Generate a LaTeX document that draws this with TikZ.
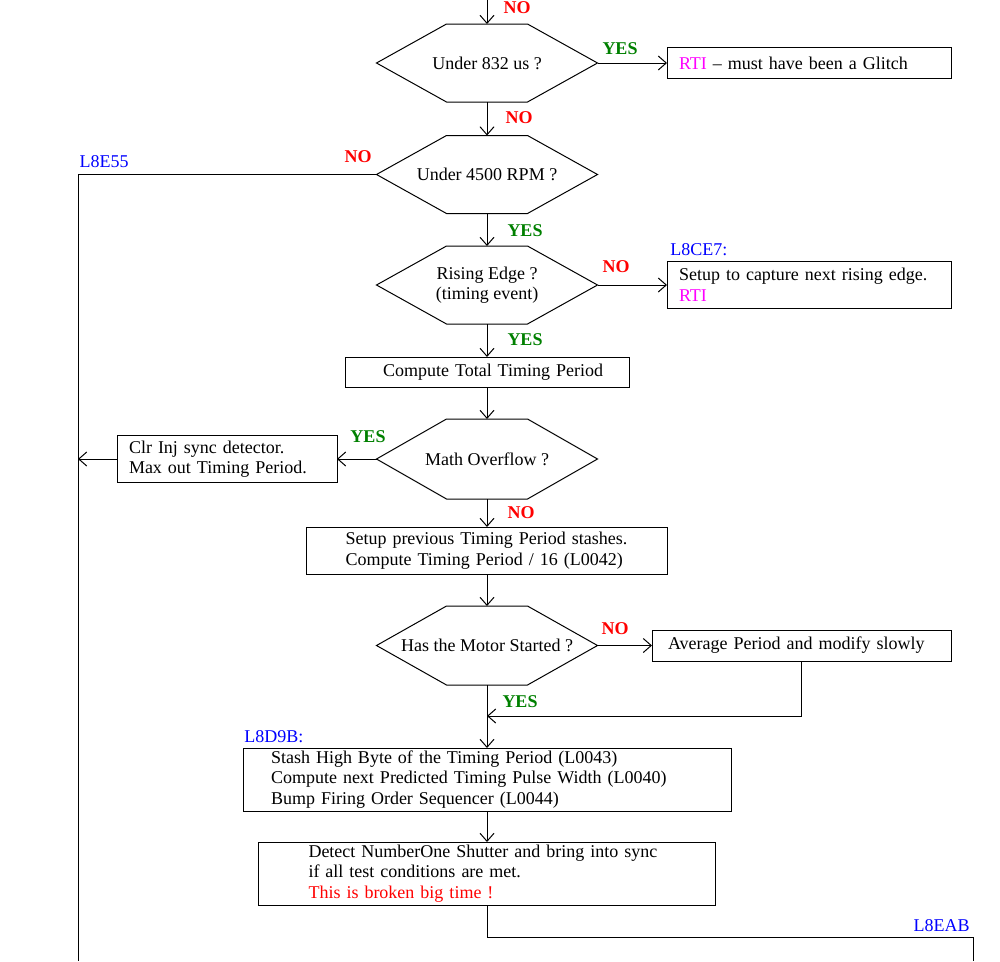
\documentclass[tikz,border=0pt]{standalone}
\usepackage{fontspec}
\setmainfont{Liberation Serif}
\usetikzlibrary{arrows.meta}
\definecolor{lblred}{RGB}{255,0,0}
\definecolor{lblgreen}{RGB}{0,128,0}
\definecolor{lblblue}{RGB}{0,0,255}
\definecolor{lblmag}{RGB}{255,0,255}
\newcommand\hexpath[1]{\draw (#1.west) -- ([xshift=70pt]#1.north west) -- ([xshift=-70pt]#1.north east) -- (#1.east) -- ([xshift=-70pt]#1.south east) -- ([xshift=70pt]#1.south west) -- cycle;}
\begin{document}
\begin{tikzpicture}[x=1pt,y=-1pt,line width=1pt,
  every node/.style={font=\fontsize{18}{20.5}\selectfont, outer sep=0pt},
  hexnode/.style={minimum width=221pt, minimum height=78pt, inner sep=0pt, align=center},
  box/.style={draw, rectangle, align=left, inner ysep=0pt},
  arr/.style={-{Straight Barb[length=8pt,width=14pt]}},
  yes/.style={text=lblgreen, font=\fontsize{18}{20}\selectfont\bfseries},
  no/.style={text=lblred, font=\fontsize{18}{20}\selectfont\bfseries},
  tag/.style={text=lblblue}]
\useasboundingbox (0,0) rectangle (1000,961);

% decision nodes
\node[hexnode] (d1) at (487,63) {Under 832 us ?};
\node[hexnode] (d2) at (487,174.5) {Under 4500 RPM ?};
\node[hexnode] (d3) at (487,285) {Rising Edge ?\\(timing event)};
\node[hexnode, minimum height=80pt] (d4) at (487,459) {Math Overflow ?};
\node[hexnode, minimum height=79pt] (d5) at (487,645.5) {Has the Motor Started ?};
\hexpath{d1}
\hexpath{d2}
\hexpath{d3}
\hexpath{d4}
\hexpath{d5}

% process boxes
\node[box, text width=260pt, inner xsep=12pt, minimum height=31pt] (rti) at (809,63)
  {\mbox{\textcolor{lblmag}{RTI} – must have been a Glitch}};
\node[box, text width=260pt, inner xsep=12pt, minimum height=47pt] (cap) at (809,285)
  {\mbox{Setup to capture next rising edge.}\\\textcolor{lblmag}{RTI}};
\node[box, text width=208pt, inner xsep=38pt, minimum height=30pt] (ctp) at (487,372)
  {\mbox{Compute Total Timing Period}};
\node[box, text width=196pt, inner xsep=12pt, minimum height=47pt] (clr) at (227,459)
  {\mbox{Clr Inj sync detector.}\\\mbox{Max out Timing Period.}};
\node[box, text width=283pt, inner xsep=39pt, minimum height=47pt] (spv) at (487,550.5)
  {\mbox{Setup previous Timing Period stashes.}\\\mbox{Compute Timing Period / 16 (L0042)}};
\node[box, text width=267pt, inner xsep=16pt, minimum height=31pt] (avg) at (801.5,645.5)
  {\mbox{Average Period and modify slowly}};
\node[box, text width=432pt, inner xsep=28pt, minimum height=63pt] (stash) at (487,779.5)
  {\mbox{Stash High Byte of the Timing Period (L0043)}\\\mbox{Compute next Predicted Timing Pulse Width (L0040)}\\\mbox{Bump Firing Order Sequencer (L0044)}};
\node[box, text width=357pt, inner xsep=50pt, minimum height=63pt] (det) at (487,873.5)
  {\mbox{Detect NumberOne Shutter and bring into sync}\\\mbox{if all test conditions are met.}\\\mbox{\textcolor{lblred}{This is broken big time !}}};

% labels
\node[no] (n0) at (517,8) {NO};
\node[yes] (y1) at (620,49) {YES};
\node[no] (n1) at (519,118) {NO};
\node[no] (n2) at (358,157) {NO};
\node[tag] (t1) at (104,162) {L8E55};
\node[yes] (y2) at (525,231) {YES};
\node[no] (n3) at (616,267) {NO};
\node[tag, anchor=west] (t2) at (667,250) {L8CE7:};
\node[yes] (y3) at (525,340) {YES};
\node[yes] (y4) at (368,437) {YES};
\node[no] (n4) at (521,513) {NO};
\node[no] (n5) at (615,629) {NO};
\node[yes] (y5) at (520,702) {YES};
\node[tag, anchor=west] (t3) at (241,737) {L8D9B:};
\node[tag, anchor=east] (t4) at (973,926) {L8EAB};

% coordinates
\coordinate (top) at (487,0);
\coordinate (lb) at (78,961);
\coordinate (lj) at (78,459);
\coordinate (fb) at (487,716);
\coordinate (rb) at (973,961);

% connectors
\draw[arr] (top) -- (d1.north);
\draw[arr] (d1.east) -- (rti.west);
\draw[arr] (d1.south) -- (d2.north);
\draw (d2.west) -| (lb);
\draw[arr] (d2.south) -- (d3.north);
\draw[arr] (d3.east) -- (cap.west);
\draw[arr] (d3.south) -- (ctp.north);
\draw[arr] (ctp.south) -- (d4.north);
\draw[arr] (d4.west) -- (clr.east);
\draw[arr] (clr.west) -- (lj);
\draw[arr] (d4.south) -- (spv.north);
\draw[arr] (spv.south) -- (d5.north);
\draw[arr] (d5.east) -- (avg.west);
\draw[arr] (avg.south) |- (fb);
\draw[arr] (d5.south) -- (stash.north);
\draw[arr] (stash.south) -- (det.north);
\draw (det.south) -- ++(0,32) -| (rb);
\end{tikzpicture}
\end{document}
